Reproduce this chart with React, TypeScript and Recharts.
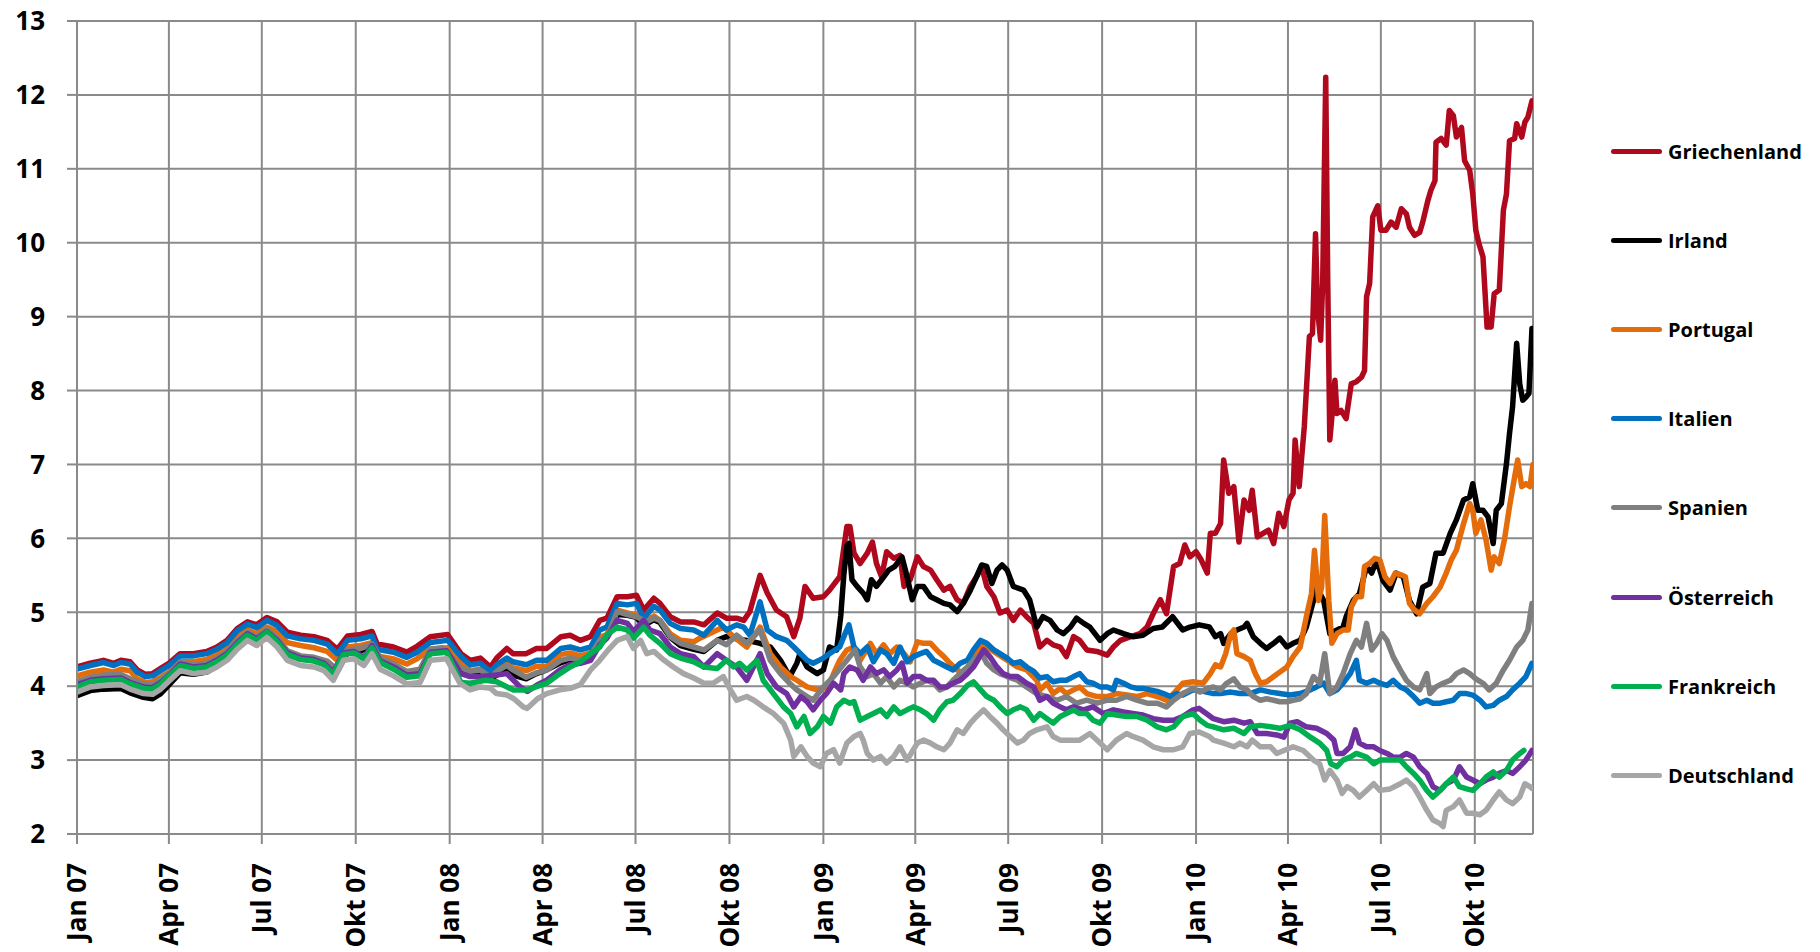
import React from 'react';
import { LineChart, Line, XAxis, YAxis, CartesianGrid } from 'recharts';

// days counted from 1 Jan 2007
const tickDays = [0, 90, 181, 273, 365, 456, 547, 639, 731, 821, 912, 1004, 1096, 1186, 1277, 1369];
const tickLabels = ['Jan 07', 'Apr 07', 'Jul 07', 'Okt 07', 'Jan 08', 'Apr 08', 'Jul 08', 'Okt 08', 'Jan 09', 'Apr 09', 'Jul 09', 'Okt 09', 'Jan 10', 'Apr 10', 'Jul 10', 'Okt 10'];
const yTicks = [2, 3, 4, 5, 6, 7, 8, 9, 10, 11, 12, 13];

const seriesNames = ['Griechenland', 'Irland', 'Portugal', 'Italien', 'Spanien', 'Österreich', 'Frankreich', 'Deutschland'];
const seriesColors = ['#B0091E', '#000000', '#E46C0A', '#0070C0', '#7F7F7F', '#7030A0', '#00B050', '#A6A6A6'];

// [day, yield %]
const griechenland = [
  [0, 4.26], [13, 4.31], [26, 4.35], [36, 4.31], [43, 4.35], [52, 4.33], [59, 4.22], [67, 4.16], [74, 4.17], [82, 4.24], [90, 4.31],
  [101, 4.44], [114, 4.44], [127, 4.47], [137, 4.53], [147, 4.62], [157, 4.78], [167, 4.87], [176, 4.83], [186, 4.93], [196, 4.87],
  [206, 4.73], [219, 4.69], [232, 4.67], [245, 4.62], [255, 4.5], [265, 4.68], [278, 4.7], [289, 4.74], [294, 4.57], [310, 4.53],
  [323, 4.46], [333, 4.54], [346, 4.67], [363, 4.7], [376, 4.44], [385, 4.35], [395, 4.38], [405, 4.26], [411, 4.38], [421, 4.51],
  [427, 4.44], [440, 4.44], [450, 4.51], [460, 4.51], [474, 4.67], [483, 4.69], [493, 4.62], [503, 4.67], [512, 4.89], [519, 4.92],
  [529, 5.21], [539, 5.21], [548, 5.23], [555, 5.03], [565, 5.19], [571, 5.12], [581, 4.94], [591, 4.87], [604, 4.87], [614, 4.83],
  [627, 4.99], [636, 4.92], [646, 4.92], [653, 4.89], [659, 5.01], [669, 5.5], [676, 5.26], [685, 5.03], [695, 4.94], [702, 4.67],
  [708, 4.92], [713, 5.35], [721, 5.19], [731, 5.21], [737, 5.3], [747, 5.48], [754, 6.16], [757, 6.16], [761, 5.8], [767, 5.66],
  [774, 5.8], [779, 5.95], [783, 5.66], [788, 5.48], [793, 5.82], [800, 5.73], [806, 5.77], [810, 5.35], [816, 5.44], [823, 5.75],
  [829, 5.62], [836, 5.57], [842, 5.44], [849, 5.3], [855, 5.35], [862, 5.17], [868, 5.12], [875, 5.35], [881, 5.48], [886, 5.62],
  [891, 5.35], [898, 5.21], [904, 4.99], [911, 5.03], [917, 4.89], [924, 5.03], [930, 4.94], [937, 4.85], [943, 4.53], [950, 4.62],
  [956, 4.56], [963, 4.53], [969, 4.4], [976, 4.67], [982, 4.62], [989, 4.49], [999, 4.47], [1009, 4.42], [1015, 4.53], [1022, 4.62],
  [1032, 4.67], [1041, 4.71], [1048, 4.8], [1054, 4.98], [1061, 5.17], [1067, 4.98], [1074, 5.62], [1080, 5.66], [1085, 5.91],
  [1090, 5.75], [1096, 5.82], [1101, 5.71], [1107, 5.53], [1110, 6.07], [1115, 6.07], [1120, 6.2], [1123, 7.06], [1128, 6.61],
  [1133, 6.7], [1138, 5.95], [1143, 6.52], [1148, 6.38], [1151, 6.65], [1156, 6.02], [1162, 6.07], [1167, 6.11], [1172, 5.93],
  [1177, 6.34], [1182, 6.16], [1187, 6.52], [1191, 6.61], [1193, 7.33], [1197, 6.7], [1202, 7.51], [1207, 8.73], [1210, 8.77],
  [1213, 10.12], [1215, 9.09], [1218, 8.68], [1220, 9.45], [1223, 12.24], [1225, 9.45], [1227, 7.33], [1229, 7.64], [1232, 8.14],
  [1234, 7.69], [1238, 7.73], [1243, 7.62], [1248, 8.09], [1253, 8.12], [1258, 8.18], [1261, 8.27], [1263, 9.27], [1266, 9.45],
  [1269, 10.35], [1274, 10.5], [1277, 10.17], [1282, 10.17], [1287, 10.28], [1292, 10.21], [1297, 10.46], [1302, 10.39], [1305, 10.21],
  [1310, 10.1], [1315, 10.14], [1318, 10.28], [1323, 10.57], [1326, 10.71], [1330, 10.84], [1331, 11.36], [1336, 11.41], [1341, 11.32],
  [1344, 11.79], [1348, 11.72], [1351, 11.43], [1356, 11.56], [1359, 11.11], [1364, 10.98], [1367, 10.66], [1370, 10.17], [1373, 9.99],
  [1377, 9.81], [1381, 8.86], [1385, 8.86], [1388, 9.31], [1393, 9.36], [1397, 10.44], [1400, 10.66], [1403, 11.38], [1408, 11.41],
  [1410, 11.61], [1415, 11.43], [1418, 11.63], [1421, 11.7], [1425, 11.92],
];

const irland = [
  [0, 3.87], [13, 3.94], [26, 3.96], [43, 3.97], [52, 3.91], [65, 3.85], [74, 3.83], [82, 3.9], [91, 4.03], [101, 4.18], [114, 4.16],
  [127, 4.19], [137, 4.27], [147, 4.37], [157, 4.53], [167, 4.66], [176, 4.6], [186, 4.71], [196, 4.59], [206, 4.43], [219, 4.37],
  [232, 4.35], [245, 4.31], [255, 4.2], [265, 4.46], [278, 4.48], [289, 4.53], [297, 4.36], [310, 4.27], [323, 4.18], [336, 4.21],
  [346, 4.48], [362, 4.5], [376, 4.23], [385, 4.15], [395, 4.18], [405, 4.1], [411, 4.15], [421, 4.22], [427, 4.15], [440, 4.1],
  [450, 4.17], [460, 4.22], [474, 4.32], [483, 4.36], [493, 4.33], [503, 4.4], [512, 4.62], [519, 4.67], [529, 4.97], [539, 4.96],
  [548, 4.93], [555, 4.82], [565, 4.9], [571, 4.86], [581, 4.66], [591, 4.55], [604, 4.5], [614, 4.47], [627, 4.62], [636, 4.67],
  [646, 4.64], [656, 4.62], [669, 4.58], [679, 4.53], [689, 4.35], [698, 4.13], [705, 4.31], [708, 4.44], [715, 4.26], [725, 4.17],
  [731, 4.22], [737, 4.53], [744, 4.49], [748, 4.95], [751, 5.5], [754, 5.9], [756, 5.93], [759, 5.44], [764, 5.35], [770, 5.26],
  [774, 5.17], [778, 5.44], [783, 5.35], [788, 5.44], [795, 5.57], [801, 5.62], [808, 5.75], [813, 5.48], [818, 5.17], [823, 5.35],
  [829, 5.35], [836, 5.21], [842, 5.17], [849, 5.12], [855, 5.1], [862, 5.01], [868, 5.12], [875, 5.3], [881, 5.48], [886, 5.64],
  [891, 5.62], [896, 5.39], [901, 5.57], [906, 5.64], [911, 5.57], [917, 5.35], [927, 5.3], [933, 5.17], [940, 4.8], [946, 4.94],
  [953, 4.89], [960, 4.76], [966, 4.71], [973, 4.8], [979, 4.92], [986, 4.85], [992, 4.8], [1002, 4.62], [1009, 4.71], [1015, 4.76],
  [1025, 4.71], [1034, 4.67], [1044, 4.69], [1054, 4.78], [1063, 4.8], [1073, 4.94], [1083, 4.76], [1090, 4.8], [1099, 4.83],
  [1109, 4.8], [1115, 4.67], [1120, 4.71], [1123, 4.58], [1130, 4.71], [1136, 4.76], [1143, 4.8], [1146, 4.85], [1152, 4.67],
  [1159, 4.58], [1165, 4.51], [1172, 4.58], [1178, 4.65], [1185, 4.53], [1191, 4.58], [1198, 4.62], [1204, 4.8], [1211, 5.16],
  [1214, 5.34], [1221, 5.16], [1227, 4.71], [1234, 4.76], [1240, 4.8], [1243, 4.94], [1250, 5.16], [1256, 5.25], [1263, 5.62],
  [1268, 5.53], [1273, 5.71], [1279, 5.43], [1286, 5.3], [1292, 5.53], [1299, 5.48], [1305, 5.16], [1312, 4.98], [1318, 5.34],
  [1325, 5.39], [1331, 5.8], [1338, 5.8], [1345, 6.07], [1351, 6.25], [1358, 6.52], [1364, 6.56], [1367, 6.74], [1372, 6.38],
  [1377, 6.38], [1382, 6.29], [1387, 5.93], [1390, 6.38], [1395, 6.47], [1400, 7.01], [1403, 7.42], [1406, 7.78], [1410, 8.64],
  [1413, 8.09], [1416, 7.87], [1419, 7.91], [1422, 7.96], [1425, 8.84],
];

const portugal = [
  [0, 4.14], [13, 4.19], [26, 4.22], [36, 4.19], [43, 4.23], [52, 4.21], [59, 4.1], [67, 4.05], [74, 4.06], [82, 4.12], [90, 4.19],
  [101, 4.33], [114, 4.33], [127, 4.36], [137, 4.42], [147, 4.51], [157, 4.67], [167, 4.76], [176, 4.71], [186, 4.8], [196, 4.74],
  [206, 4.59], [219, 4.55], [232, 4.52], [245, 4.47], [255, 4.35], [265, 4.53], [278, 4.55], [289, 4.59], [294, 4.41], [310, 4.37],
  [323, 4.3], [333, 4.37], [346, 4.5], [363, 4.52], [376, 4.32], [385, 4.21], [395, 4.23], [405, 4.12], [411, 4.21], [421, 4.3],
  [427, 4.25], [440, 4.21], [450, 4.27], [460, 4.27], [474, 4.43], [483, 4.45], [493, 4.41], [503, 4.45], [512, 4.66], [519, 4.7],
  [529, 5.03], [539, 4.99], [548, 4.96], [558, 4.89], [565, 4.95], [571, 4.89], [581, 4.71], [591, 4.62], [604, 4.6], [610, 4.65],
  [627, 4.76], [633, 4.8], [643, 4.67], [656, 4.53], [669, 4.8], [679, 4.44], [689, 4.26], [699, 4.13], [705, 4.08], [715, 3.99],
  [725, 3.95], [731, 3.97], [737, 4.04], [744, 4.26], [747, 4.35], [754, 4.49], [761, 4.53], [767, 4.35], [777, 4.58], [783, 4.44],
  [790, 4.56], [796, 4.44], [803, 4.53], [810, 4.44], [816, 4.33], [823, 4.6], [829, 4.58], [836, 4.58], [842, 4.49], [849, 4.4],
  [855, 4.31], [862, 4.22], [868, 4.17], [875, 4.26], [885, 4.55], [891, 4.53], [901, 4.44], [911, 4.35], [921, 4.26], [930, 4.22],
  [940, 4.08], [943, 3.95], [950, 4.04], [956, 3.9], [963, 3.97], [969, 3.9], [976, 3.95], [982, 3.99], [989, 3.9], [999, 3.86],
  [1009, 3.86], [1018, 3.9], [1028, 3.88], [1038, 3.86], [1048, 3.9], [1058, 3.86], [1067, 3.81], [1074, 3.9], [1083, 4.04],
  [1093, 4.06], [1103, 4.04], [1110, 4.17], [1115, 4.29], [1120, 4.26], [1125, 4.44], [1130, 4.71], [1133, 4.76], [1136, 4.44],
  [1143, 4.4], [1149, 4.35], [1154, 4.17], [1159, 4.04], [1165, 4.06], [1172, 4.13], [1178, 4.19], [1185, 4.26], [1191, 4.4],
  [1198, 4.53], [1204, 4.94], [1209, 5.25], [1212, 5.84], [1216, 5.16], [1219, 5.34], [1222, 6.31], [1226, 5.16], [1229, 4.58],
  [1234, 4.71], [1240, 4.76], [1245, 4.76], [1248, 5.07], [1253, 5.21], [1258, 5.21], [1261, 5.62], [1266, 5.66], [1271, 5.73],
  [1276, 5.71], [1281, 5.48], [1286, 5.39], [1291, 5.53], [1296, 5.51], [1301, 5.48], [1305, 5.12], [1310, 5.03], [1315, 4.98],
  [1322, 5.12], [1328, 5.21], [1335, 5.34], [1341, 5.53], [1346, 5.71], [1351, 5.84], [1358, 6.2], [1364, 6.47], [1367, 6.38],
  [1370, 6.07], [1375, 6.25], [1380, 5.98], [1385, 5.57], [1388, 5.75], [1393, 5.66], [1398, 5.98], [1403, 6.43], [1408, 6.83],
  [1411, 7.06], [1415, 6.7], [1419, 6.74], [1423, 6.7], [1426, 7.0],
];

const italien = [
  [0, 4.23], [13, 4.28], [26, 4.32], [36, 4.28], [43, 4.32], [52, 4.3], [59, 4.19], [67, 4.13], [74, 4.14], [82, 4.21], [90, 4.28],
  [101, 4.41], [114, 4.41], [127, 4.44], [137, 4.5], [147, 4.59], [157, 4.75], [167, 4.84], [176, 4.79], [186, 4.89], [196, 4.82],
  [206, 4.68], [219, 4.64], [232, 4.62], [245, 4.57], [255, 4.44], [265, 4.62], [278, 4.64], [289, 4.68], [294, 4.5], [310, 4.46],
  [323, 4.39], [333, 4.46], [346, 4.59], [363, 4.62], [376, 4.4], [385, 4.29], [395, 4.31], [405, 4.2], [411, 4.29], [421, 4.38],
  [427, 4.33], [440, 4.29], [450, 4.35], [460, 4.35], [474, 4.51], [483, 4.53], [493, 4.49], [503, 4.53], [512, 4.76], [519, 4.8],
  [529, 5.12], [539, 5.1], [548, 5.12], [555, 4.92], [565, 5.08], [571, 5.03], [581, 4.85], [591, 4.78], [604, 4.76], [614, 4.69],
  [627, 4.89], [636, 4.76], [646, 4.83], [653, 4.8], [659, 4.69], [669, 5.14], [676, 4.76], [685, 4.67], [695, 4.62], [702, 4.53],
  [715, 4.35], [721, 4.31], [731, 4.38], [737, 4.44], [747, 4.53], [751, 4.67], [756, 4.83], [761, 4.53], [767, 4.44], [774, 4.53],
  [780, 4.33], [787, 4.49], [793, 4.44], [800, 4.31], [806, 4.53], [813, 4.33], [819, 4.4], [826, 4.44], [832, 4.47], [839, 4.35],
  [845, 4.31], [852, 4.26], [858, 4.22], [865, 4.31], [872, 4.35], [878, 4.49], [885, 4.62], [891, 4.58], [898, 4.49], [904, 4.44],
  [911, 4.38], [917, 4.31], [924, 4.33], [930, 4.26], [937, 4.2], [943, 4.11], [950, 4.13], [956, 4.06], [963, 4.08], [969, 4.08],
  [976, 4.13], [982, 4.17], [989, 4.06], [995, 4.04], [1002, 3.99], [1009, 3.99], [1015, 3.95], [1018, 4.08], [1025, 4.04],
  [1032, 3.99], [1038, 3.97], [1044, 3.97], [1051, 3.95], [1058, 3.93], [1064, 3.9], [1071, 3.86], [1077, 3.9], [1083, 3.88],
  [1093, 3.95], [1103, 3.93], [1113, 3.9], [1120, 3.9], [1130, 3.92], [1139, 3.9], [1149, 3.9], [1159, 3.95], [1169, 3.92],
  [1178, 3.9], [1188, 3.88], [1198, 3.9], [1208, 3.95], [1214, 3.99], [1221, 4.04], [1227, 3.9], [1234, 3.95], [1240, 4.04],
  [1247, 4.17], [1253, 4.35], [1256, 4.08], [1263, 4.04], [1270, 4.08], [1276, 4.04], [1283, 4.01], [1289, 4.08], [1296, 3.99],
  [1302, 3.95], [1309, 3.86], [1315, 3.77], [1322, 3.81], [1328, 3.77], [1335, 3.77], [1341, 3.79], [1348, 3.81], [1354, 3.9],
  [1361, 3.9], [1367, 3.88], [1374, 3.81], [1380, 3.72], [1387, 3.74], [1393, 3.81], [1400, 3.86], [1406, 3.95], [1413, 4.04],
  [1419, 4.13], [1425, 4.31],
];

const spanien = [
  [0, 4.06], [13, 4.12], [26, 4.15], [43, 4.16], [52, 4.1], [65, 4.03], [74, 4.02], [82, 4.09], [91, 4.18], [101, 4.33], [114, 4.29],
  [127, 4.31], [137, 4.38], [147, 4.47], [157, 4.62], [167, 4.73], [176, 4.66], [186, 4.77], [196, 4.65], [206, 4.48], [219, 4.41],
  [232, 4.39], [245, 4.34], [255, 4.22], [265, 4.49], [278, 4.51], [289, 4.57], [297, 4.38], [310, 4.3], [323, 4.2], [336, 4.23],
  [346, 4.5], [358, 4.52], [376, 4.25], [385, 4.2], [395, 4.22], [405, 4.12], [411, 4.2], [421, 4.28], [427, 4.22], [440, 4.12],
  [450, 4.18], [460, 4.22], [474, 4.35], [483, 4.38], [493, 4.35], [503, 4.42], [512, 4.62], [519, 4.66], [529, 5.01], [539, 4.97],
  [548, 4.94], [558, 4.87], [565, 4.92], [571, 4.89], [581, 4.67], [591, 4.58], [604, 4.53], [614, 4.49], [627, 4.62], [636, 4.56],
  [646, 4.69], [656, 4.58], [669, 4.76], [679, 4.35], [689, 4.17], [698, 4.04], [705, 3.95], [715, 3.86], [721, 3.81], [731, 3.99],
  [741, 4.13], [754, 4.35], [762, 4.49], [767, 4.26], [774, 4.13], [780, 4.17], [787, 4.04], [793, 4.13], [800, 3.99], [806, 4.08],
  [813, 4.04], [819, 3.99], [826, 4.04], [832, 4.08], [839, 4.04], [845, 3.95], [852, 3.99], [858, 4.08], [865, 4.17], [872, 4.26],
  [878, 4.35], [886, 4.44], [891, 4.31], [898, 4.22], [904, 4.17], [911, 4.13], [921, 4.08], [930, 3.99], [940, 3.9], [950, 3.86],
  [960, 3.81], [969, 3.86], [979, 3.77], [989, 3.81], [999, 3.77], [1009, 3.81], [1018, 3.81], [1028, 3.86], [1038, 3.81],
  [1048, 3.77], [1058, 3.77], [1067, 3.72], [1074, 3.81], [1083, 3.9], [1093, 3.97], [1100, 3.92], [1107, 3.97], [1113, 3.99],
  [1120, 3.95], [1126, 4.04], [1133, 4.1], [1139, 3.99], [1146, 3.95], [1152, 3.86], [1159, 3.81], [1165, 3.83], [1172, 3.81],
  [1178, 3.79], [1185, 3.79], [1191, 3.81], [1198, 3.83], [1204, 3.9], [1211, 4.13], [1217, 4.04], [1222, 4.44], [1227, 3.9],
  [1234, 3.99], [1240, 4.17], [1247, 4.44], [1253, 4.62], [1258, 4.53], [1263, 4.85], [1268, 4.49], [1273, 4.58], [1278, 4.71],
  [1283, 4.62], [1289, 4.4], [1296, 4.22], [1302, 4.08], [1309, 3.99], [1315, 3.95], [1322, 4.17], [1325, 3.9], [1331, 3.99],
  [1338, 4.04], [1345, 4.08], [1351, 4.17], [1358, 4.22], [1364, 4.17], [1370, 4.1], [1377, 4.04], [1383, 3.95], [1390, 4.04],
  [1397, 4.22], [1403, 4.35], [1410, 4.53], [1416, 4.62], [1421, 4.76], [1425, 5.12],
];

const oesterreich = [
  [0, 4.02], [13, 4.08], [26, 4.1], [43, 4.11], [52, 4.05], [65, 3.99], [74, 3.98], [82, 4.05], [91, 4.16], [101, 4.3], [114, 4.26],
  [127, 4.28], [137, 4.35], [147, 4.44], [157, 4.59], [167, 4.71], [176, 4.64], [186, 4.74], [196, 4.62], [206, 4.45], [219, 4.38],
  [232, 4.36], [242, 4.31], [251, 4.19], [261, 4.45], [271, 4.47], [281, 4.39], [289, 4.55], [297, 4.34], [310, 4.26], [323, 4.15],
  [336, 4.17], [346, 4.46], [362, 4.48], [376, 4.17], [385, 4.13], [395, 4.13], [411, 4.15], [421, 4.17], [434, 3.99], [441, 3.93],
  [451, 4.02], [460, 4.08], [473, 4.22], [483, 4.29], [493, 4.31], [503, 4.35], [512, 4.56], [519, 4.65], [529, 4.89], [539, 4.85],
  [545, 4.74], [555, 4.89], [561, 4.76], [571, 4.71], [581, 4.53], [591, 4.44], [604, 4.4], [614, 4.26], [627, 4.44], [636, 4.35],
  [646, 4.26], [656, 4.08], [669, 4.44], [676, 4.17], [685, 3.99], [695, 3.9], [702, 3.72], [709, 3.86], [715, 3.79], [721, 3.68],
  [728, 3.81], [734, 3.9], [741, 4.04], [748, 3.95], [751, 4.17], [757, 4.26], [764, 4.22], [770, 4.08], [777, 4.26], [783, 4.17],
  [790, 4.22], [796, 4.13], [803, 4.22], [808, 4.31], [813, 4.04], [819, 4.13], [826, 4.13], [832, 4.08], [839, 4.08], [845, 3.99],
  [852, 3.99], [858, 4.04], [865, 4.08], [872, 4.17], [878, 4.26], [888, 4.49], [894, 4.4], [901, 4.26], [907, 4.17], [914, 4.13],
  [921, 4.13], [930, 4.04], [937, 3.99], [943, 3.81], [950, 3.86], [956, 3.77], [963, 3.72], [969, 3.68], [976, 3.72], [986, 3.68],
  [995, 3.72], [1005, 3.63], [1015, 3.68], [1025, 3.65], [1034, 3.63], [1044, 3.61], [1054, 3.56], [1064, 3.54], [1074, 3.54],
  [1083, 3.59], [1093, 3.68], [1099, 3.7], [1106, 3.63], [1113, 3.56], [1123, 3.52], [1133, 3.54], [1143, 3.5], [1149, 3.52],
  [1156, 3.36], [1165, 3.36], [1175, 3.34], [1182, 3.31], [1188, 3.5], [1195, 3.52], [1204, 3.45], [1214, 3.43], [1224, 3.36],
  [1231, 3.27], [1234, 3.09], [1240, 3.09], [1247, 3.18], [1252, 3.41], [1256, 3.23], [1263, 3.18], [1270, 3.18], [1276, 3.13],
  [1283, 3.09], [1289, 3.04], [1296, 3.04], [1302, 3.09], [1309, 3.04], [1315, 2.91], [1322, 2.82], [1328, 2.64], [1335, 2.59],
  [1341, 2.68], [1348, 2.73], [1354, 2.91], [1361, 2.77], [1367, 2.73], [1374, 2.68], [1380, 2.73], [1387, 2.77], [1393, 2.82],
  [1400, 2.86], [1406, 2.82], [1413, 2.91], [1419, 3.0], [1425, 3.13],
];

const frankreich = [
  [0, 3.99], [13, 4.06], [26, 4.08], [43, 4.09], [52, 4.03], [65, 3.97], [74, 3.96], [82, 4.03], [91, 4.15], [101, 4.28], [114, 4.24],
  [127, 4.26], [137, 4.33], [147, 4.42], [157, 4.57], [167, 4.69], [176, 4.62], [186, 4.73], [196, 4.6], [206, 4.43], [219, 4.36],
  [232, 4.34], [242, 4.29], [251, 4.17], [261, 4.43], [271, 4.45], [281, 4.37], [289, 4.52], [297, 4.32], [310, 4.23], [323, 4.12],
  [336, 4.14], [346, 4.44], [362, 4.46], [376, 4.05], [385, 4.04], [400, 4.08], [411, 4.06], [427, 3.95], [441, 3.95], [460, 4.04],
  [473, 4.17], [483, 4.26], [493, 4.33], [503, 4.44], [512, 4.53], [519, 4.69], [529, 4.8], [539, 4.76], [545, 4.65], [555, 4.8],
  [561, 4.69], [571, 4.58], [581, 4.44], [591, 4.38], [604, 4.33], [614, 4.26], [627, 4.24], [636, 4.35], [643, 4.26], [649, 4.31],
  [656, 4.22], [666, 4.35], [672, 4.08], [682, 3.9], [692, 3.72], [699, 3.63], [705, 3.45], [712, 3.59], [718, 3.36], [725, 3.45],
  [731, 3.59], [738, 3.5], [744, 3.72], [751, 3.81], [757, 3.77], [761, 3.79], [767, 3.54], [774, 3.59], [780, 3.63], [787, 3.68],
  [793, 3.59], [800, 3.72], [806, 3.63], [813, 3.68], [819, 3.72], [826, 3.68], [832, 3.63], [839, 3.54], [845, 3.68], [852, 3.79],
  [858, 3.81], [865, 3.9], [872, 4.01], [878, 4.06], [885, 3.95], [891, 3.86], [898, 3.81], [904, 3.72], [911, 3.63], [917, 3.68],
  [924, 3.72], [930, 3.68], [937, 3.54], [943, 3.63], [950, 3.56], [956, 3.5], [963, 3.59], [969, 3.63], [976, 3.68], [982, 3.63],
  [989, 3.63], [995, 3.54], [1002, 3.5], [1009, 3.63], [1018, 3.61], [1028, 3.59], [1038, 3.59], [1048, 3.54], [1058, 3.45],
  [1067, 3.41], [1074, 3.45], [1083, 3.59], [1093, 3.63], [1100, 3.54], [1107, 3.47], [1113, 3.45], [1123, 3.41], [1133, 3.43],
  [1143, 3.36], [1149, 3.45], [1159, 3.47], [1169, 3.45], [1178, 3.43], [1188, 3.47], [1198, 3.41], [1208, 3.31], [1217, 3.23],
  [1224, 3.13], [1228, 2.95], [1234, 2.91], [1240, 3.0], [1247, 3.04], [1253, 3.09], [1263, 3.04], [1270, 2.95], [1276, 3.0],
  [1286, 3.0], [1296, 3.0], [1302, 2.91], [1309, 2.82], [1315, 2.73], [1322, 2.59], [1328, 2.5], [1335, 2.59], [1341, 2.68],
  [1348, 2.77], [1354, 2.64], [1361, 2.61], [1367, 2.59], [1374, 2.68], [1380, 2.77], [1387, 2.84], [1393, 2.77], [1400, 2.86],
  [1406, 3.0], [1413, 3.09], [1417, 3.13],
];

const deutschland = [
  [0, 3.92], [13, 3.99], [26, 4.01], [43, 4.02], [52, 3.96], [65, 3.9], [74, 3.89], [82, 3.96], [91, 4.08], [101, 4.21], [114, 4.17],
  [127, 4.19], [137, 4.26], [147, 4.35], [157, 4.5], [167, 4.62], [176, 4.55], [186, 4.66], [196, 4.53], [206, 4.35], [219, 4.28],
  [232, 4.26], [242, 4.21], [251, 4.08], [261, 4.35], [271, 4.37], [281, 4.28], [289, 4.44], [297, 4.23], [310, 4.14], [323, 4.03],
  [336, 4.05], [346, 4.35], [362, 4.37], [375, 4.04], [385, 3.95], [395, 3.99], [405, 3.97], [411, 3.9], [421, 3.88], [428, 3.83],
  [437, 3.72], [441, 3.7], [451, 3.83], [460, 3.9], [473, 3.95], [483, 3.97], [493, 4.02], [503, 4.22], [512, 4.35], [519, 4.47],
  [529, 4.62], [539, 4.67], [545, 4.51], [552, 4.62], [558, 4.44], [565, 4.47], [575, 4.35], [584, 4.26], [594, 4.17], [604, 4.11],
  [614, 4.04], [623, 4.04], [633, 4.13], [640, 3.95], [646, 3.81], [656, 3.86], [663, 3.81], [672, 3.72], [682, 3.63], [692, 3.5],
  [699, 3.27], [702, 3.05], [709, 3.18], [715, 3.05], [721, 2.96], [728, 2.91], [734, 3.09], [741, 3.14], [747, 2.96], [754, 3.23],
  [761, 3.32], [767, 3.36], [770, 3.27], [774, 3.09], [780, 3.0], [787, 3.05], [793, 2.96], [800, 3.05], [806, 3.18], [813, 3.0],
  [823, 3.23], [829, 3.27], [836, 3.23], [842, 3.18], [849, 3.14], [855, 3.23], [862, 3.41], [868, 3.36], [875, 3.5], [881, 3.59],
  [888, 3.68], [894, 3.59], [901, 3.5], [907, 3.41], [914, 3.32], [921, 3.23], [927, 3.27], [933, 3.36], [940, 3.41], [950, 3.45],
  [956, 3.32], [963, 3.27], [973, 3.27], [982, 3.27], [992, 3.36], [1002, 3.23], [1009, 3.14], [1018, 3.27], [1028, 3.36],
  [1034, 3.32], [1044, 3.27], [1054, 3.18], [1064, 3.14], [1074, 3.14], [1083, 3.18], [1090, 3.36], [1099, 3.38], [1109, 3.32],
  [1113, 3.27], [1123, 3.23], [1133, 3.18], [1139, 3.23], [1146, 3.18], [1151, 3.27], [1159, 3.18], [1169, 3.18], [1175, 3.09],
  [1182, 3.13], [1191, 3.18], [1201, 3.13], [1211, 3.0], [1217, 2.95], [1222, 2.73], [1227, 2.86], [1234, 2.73], [1239, 2.55],
  [1244, 2.64], [1250, 2.59], [1256, 2.5], [1263, 2.59], [1270, 2.68], [1276, 2.59], [1286, 2.61], [1296, 2.68], [1302, 2.73],
  [1309, 2.64], [1315, 2.5], [1322, 2.32], [1328, 2.19], [1335, 2.14], [1338, 2.1], [1341, 2.32], [1348, 2.37], [1354, 2.46],
  [1361, 2.28], [1367, 2.28], [1374, 2.26], [1380, 2.32], [1387, 2.46], [1393, 2.57], [1400, 2.46], [1406, 2.41], [1413, 2.5],
  [1418, 2.68], [1423, 2.64], [1426, 2.61],
];

const seriesData = [griechenland, irland, portugal, italien, spanien, oesterreich, frankreich, deutschland];

const FONT = '"Open Sans", "DejaVu Sans", sans-serif';
const GRID = '#8A8A8A';

const XTick = (props: any) => {
  const { x, y, payload } = props;
  const label = tickLabels[tickDays.indexOf(payload.value)];
  return (
    <text
      transform={`translate(${x},${y}) rotate(-90)`}
      x={-19}
      y={0}
      dy="0.36em"
      textAnchor="end"
      fill="#000"
      fontSize={26}
      fontWeight={700}
      fontFamily={FONT}
    >
      {label}
    </text>
  );
};

const LegendBox = () => (
  <div style={{ position: 'absolute', left: 1611, top: 0, fontFamily: FONT }}>
    {seriesNames.map((name, i) => (
      <div
        key={name}
        style={{ position: 'absolute', left: 0, top: 151 + i * 89.2 - 15, height: 30, display: 'flex', alignItems: 'center', whiteSpace: 'nowrap' }}
      >
        <div style={{ width: 51, height: 5, borderRadius: 2.5, background: seriesColors[i] }} />
        <span style={{ marginLeft: 6, fontSize: 20, fontWeight: 700, color: '#000' }}>{name}</span>
      </div>
    ))}
  </div>
);

export default function App() {
  return (
    <div style={{ position: 'absolute', left: 0, top: 0, width: 1820, height: 952, background: '#fff' }}>
      <LineChart width={1820} height={952} margin={{ top: 21, right: 287, bottom: 0, left: 0 }}>
        <CartesianGrid stroke={GRID} strokeWidth={2} />
        <XAxis
          dataKey="d"
          type="number"
          domain={[0, 1426]}
          ticks={tickDays}
          interval={0}
          height={118}
          tickSize={10}
          tickMargin={0}
          stroke={GRID}
          strokeWidth={2}
          tick={<XTick />}
          allowDataOverflow
        />
        <YAxis
          type="number"
          domain={[2, 13]}
          ticks={yTicks}
          interval={0}
          width={77}
          tickSize={10}
          tickMargin={22}
          stroke={GRID}
          strokeWidth={2}
          tick={{ fill: '#000', fontSize: 26, fontWeight: 700, fontFamily: FONT }}
          allowDataOverflow
        />
        {seriesNames.map((name, i) => (
          <Line
            key={name}
            name={name}
            data={seriesData[i].map(([d, v]) => ({ d, v }))}
            dataKey="v"
            type="linear"
            stroke={seriesColors[i]}
            strokeWidth={5.5}
            strokeLinejoin="round"
            strokeLinecap="round"
            dot={false}
            activeDot={false}
            isAnimationActive={false}
          />
        ))}
      </LineChart>
      <LegendBox />
    </div>
  );
}
